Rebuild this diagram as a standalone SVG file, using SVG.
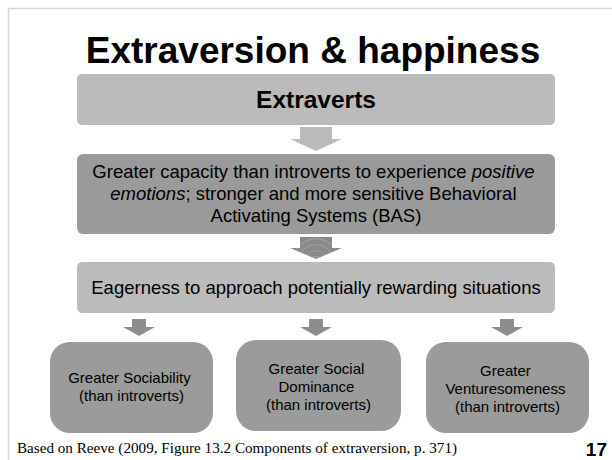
<svg xmlns="http://www.w3.org/2000/svg" width="612" height="460" viewBox="0 0 612 460">
<defs>
<style>
.sans{font-family:"Liberation Sans",Arial,sans-serif;fill:#000}
.t18{font-size:18.5px}
.t15{font-size:15px}
.box1{fill:#bbbbbb}
.box2{fill:#9a9a9a}
.leaf{fill:#9b9b9b}
.arrL{fill:#bbbbbb}
.arrD{fill:#8d8d8d}
</style>
<radialGradient id="rings" gradientUnits="userSpaceOnUse" cx="316" cy="262" r="6" spreadMethod="repeat">
<stop offset="0" stop-color="#8a8a8a"/>
<stop offset="0.75" stop-color="#8a8a8a"/>
<stop offset="0.88" stop-color="#a8a8a8"/>
<stop offset="1" stop-color="#8a8a8a"/>
</radialGradient>
</defs>
<rect width="612" height="460" fill="#ffffff"/>
<path d="M8.5 460 V8.5 H612" fill="none" stroke="#d6d6d6" stroke-width="1.5"/>
<text id="title" class="sans" x="313" y="63" font-size="37" font-weight="bold" text-anchor="middle">Extraversion &amp; happiness</text>

<g id="connectors">
<path class="arrL" d="M300 127 H332 V139 H342 L316 151 L290 139 H300 Z"/>
<path fill="url(#rings)" d="M300 237 H332 V248 H342 L316 259 L290 248 H300 Z"/>
<path class="arrD" d="M132 319 H146 V327 H155 L139 336 L123 327 H132 Z"/>
<path class="arrD" d="M309 319 H323 V327 H332 L316 336 L300 327 H309 Z"/>
<path class="arrD" d="M500 319 H514 V327 H523 L507 336 L491 327 H500 Z"/>
</g>

<g id="extraverts">
<rect class="box1" x="77" y="74" width="478" height="51" rx="5"/>
<text class="sans" x="316" y="108" font-size="24.5" font-weight="bold" text-anchor="middle">Extraverts</text>
</g>

<g id="capacity">
<rect class="box2" x="77" y="154" width="478" height="80" rx="6"/>
<text class="sans t18" text-anchor="middle">
<tspan x="316" y="178">Greater capacity than introverts to experience <tspan font-style="italic">positive</tspan></tspan>
<tspan x="316" y="200"><tspan font-style="italic">emotions</tspan>; stronger and more sensitive Behavioral</tspan>
<tspan x="316" y="222">Activating Systems (BAS)</tspan>
</text>
</g>

<g id="eagerness">
<rect class="box1" x="77" y="262" width="478" height="51" rx="5"/>
<text class="sans t18" x="316" y="294" text-anchor="middle">Eagerness to approach potentially rewarding situations</text>
</g>

<g id="sociability">
<rect class="leaf" x="50" y="342" width="163" height="91" rx="20"/>
<text class="sans t15" text-anchor="middle">
<tspan x="131.5" y="383">Greater Sociability</tspan>
<tspan x="131.5" y="401">(than introverts)</tspan>
</text>
</g>

<g id="dominance">
<rect class="leaf" x="236" y="340" width="165" height="91" rx="20"/>
<text class="sans t15" text-anchor="middle">
<tspan x="318.5" y="374">Greater Social</tspan>
<tspan x="318.5" y="392">Dominance</tspan>
<tspan x="318.5" y="410">(than introverts)</tspan>
</text>
</g>

<g id="venturesomeness">
<rect class="leaf" x="426" y="342" width="163" height="91" rx="20"/>
<text class="sans t15" text-anchor="middle">
<tspan x="507.5" y="376">Greater</tspan>
<tspan x="507.5" y="394">Venturesomeness</tspan>
<tspan x="507.5" y="412">(than introverts)</tspan>
</text>
</g>

<text id="footer" x="17" y="453" font-family="'Liberation Serif','Times New Roman',serif" font-size="15.5" textLength="440" lengthAdjust="spacingAndGlyphs">Based on Reeve (2009, Figure 13.2 Components of extraversion, p. 371)</text>
<text id="page" class="sans" x="607" y="456" font-size="19" font-weight="bold" text-anchor="end">17</text>
</svg>
